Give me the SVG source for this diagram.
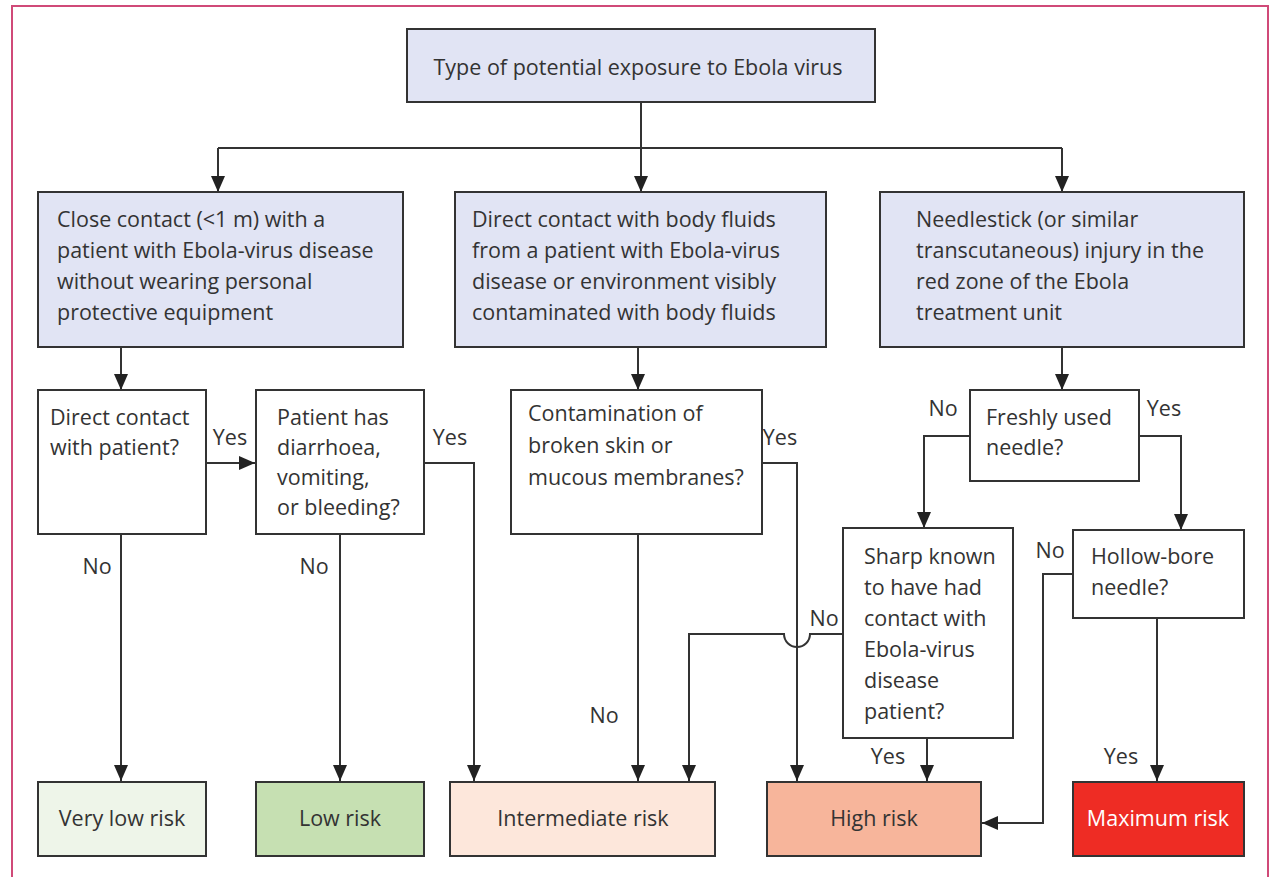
<svg xmlns="http://www.w3.org/2000/svg" width="1274" height="877" viewBox="0 0 1274 877">
<defs>
<style>
text{font-family:"Open Sans","Liberation Sans",sans-serif;font-size:21.5px;fill:#333;}
.box{stroke:#333;stroke-width:2;fill:#fff;}
.blue{fill:#e1e4f4;}
.line{fill:none;stroke:#333;stroke-width:2;}
.mid{text-anchor:middle;}
</style>
<marker id="arr" viewBox="0 0 16 14" refX="16" refY="7" markerWidth="16" markerHeight="14" markerUnits="userSpaceOnUse" orient="auto">
<path d="M0,0 L16,7 L0,14 z" fill="#222"/>
</marker>
</defs>
<rect x="12" y="6" width="1256" height="880" fill="#fff" stroke="#d04a78" stroke-width="2"/>

<g id="connectors">
<path class="line" d="M641,102 V148 M218,148 H1062" />
<path class="line" marker-end="url(#arr)" d="M218,148 V192"/>
<path class="line" marker-end="url(#arr)" d="M641,148 V192"/>
<path class="line" marker-end="url(#arr)" d="M1062,148 V192"/>
<path class="line" marker-end="url(#arr)" d="M121,347 V390"/>
<path class="line" marker-end="url(#arr)" d="M638,347 V390"/>
<path class="line" marker-end="url(#arr)" d="M1062,347 V390"/>
<path class="line" marker-end="url(#arr)" d="M206,463 H255"/>
<path class="line" marker-end="url(#arr)" d="M424,463 H474 V781"/>
<path class="line" marker-end="url(#arr)" d="M762,463 H797 V781"/>
<path class="line" marker-end="url(#arr)" d="M121,534 V781"/>
<path class="line" marker-end="url(#arr)" d="M340,534 V781"/>
<path class="line" marker-end="url(#arr)" d="M638,534 V781"/>
<path class="line" marker-end="url(#arr)" d="M970,436 H924 V528"/>
<path class="line" marker-end="url(#arr)" d="M1139,436 H1181 V530"/>
<path class="line" marker-end="url(#arr)" d="M843,634 H810 A13,13 0 0 1 784,634 H689 V781"/>
<path class="line" marker-end="url(#arr)" d="M927,738 V781"/>
<path class="line" marker-end="url(#arr)" d="M1157,618 V781"/>
<path class="line" marker-end="url(#arr)" d="M1073,574 H1043 V823 H982"/>
<text x="230" y="445" class="mid">Yes</text>
<text x="450" y="445" class="mid">Yes</text>
<text x="780" y="445" class="mid">Yes</text>
<text x="97" y="574" class="mid">No</text>
<text x="314" y="574" class="mid">No</text>
<text x="604" y="723" class="mid">No</text>
<text x="943" y="416" class="mid">No</text>
<text x="1164" y="416" class="mid">Yes</text>
<text x="824" y="626" class="mid">No</text>
<text x="1050" y="558" class="mid">No</text>
<text x="888" y="764" class="mid">Yes</text>
<text x="1121" y="764" class="mid">Yes</text>
</g>

<g id="top">
<rect class="box blue" x="407" y="29" width="468" height="73"/>
<text x="638" y="75" class="mid">Type of potential exposure to Ebola virus</text>
</g>
<g id="close">
<rect class="box blue" x="38" y="192" width="365" height="155"/>
<text x="57" y="227">Close contact (&lt;1 m) with a</text>
<text x="57" y="258">patient with Ebola-virus disease</text>
<text x="57" y="289">without wearing personal</text>
<text x="57" y="320">protective equipment</text>
</g>
<g id="fluids">
<rect class="box blue" x="455" y="192" width="371" height="155"/>
<text x="472" y="227">Direct contact with body fluids</text>
<text x="472" y="258">from a patient with Ebola-virus</text>
<text x="472" y="289">disease or environment visibly</text>
<text x="472" y="320">contaminated with body fluids</text>
</g>
<g id="needlestick">
<rect class="box blue" x="880" y="192" width="364" height="155"/>
<text x="916" y="227">Needlestick (or similar</text>
<text x="916" y="258">transcutaneous) injury in the</text>
<text x="916" y="289">red zone of the Ebola</text>
<text x="916" y="320">treatment unit</text>
</g>
<g id="direct">
<rect class="box" x="38" y="390" width="168" height="144"/>
<text x="50" y="425">Direct contact</text>
<text x="50" y="455">with patient?</text>
</g>
<g id="symptoms">
<rect class="box" x="256" y="390" width="168" height="144"/>
<text x="277" y="425">Patient has</text>
<text x="277" y="455">diarrhoea,</text>
<text x="277" y="485">vomiting,</text>
<text x="277" y="515">or bleeding?</text>
</g>
<g id="contamination">
<rect class="box" x="511" y="390" width="251" height="144"/>
<text x="528" y="421">Contamination of</text>
<text x="528" y="453">broken skin or</text>
<text x="528" y="485">mucous membranes?</text>
</g>
<g id="fresh">
<rect class="box" x="970" y="390" width="169" height="91"/>
<text x="986" y="425">Freshly used</text>
<text x="986" y="455">needle?</text>
</g>
<g id="sharp">
<rect class="box" x="843" y="528" width="170" height="210"/>
<text x="864" y="564">Sharp known</text>
<text x="864" y="595">to have had</text>
<text x="864" y="626">contact with</text>
<text x="864" y="657">Ebola-virus</text>
<text x="864" y="688">disease</text>
<text x="864" y="719">patient?</text>
</g>
<g id="hollow">
<rect class="box" x="1073" y="530" width="171" height="88"/>
<text x="1091" y="564">Hollow-bore</text>
<text x="1091" y="595">needle?</text>
</g>
<g id="verylow">
<rect class="box" style="fill:#eef5e9" x="38" y="782" width="168" height="74"/>
<text x="122" y="826" class="mid">Very low risk</text>
</g>
<g id="low">
<rect class="box" style="fill:#c6e0b2" x="256" y="782" width="168" height="74"/>
<text x="340" y="826" class="mid">Low risk</text>
</g>
<g id="intermediate">
<rect class="box" style="fill:#fde7db" x="450" y="782" width="265" height="74"/>
<text x="583" y="826" class="mid">Intermediate risk</text>
</g>
<g id="high">
<rect class="box" style="fill:#f7b59b" x="767" y="782" width="214" height="74"/>
<text x="874" y="826" class="mid">High risk</text>
</g>
<g id="maximum">
<rect class="box" style="fill:#ee2c24" x="1073" y="782" width="171" height="74"/>
<text x="1158" y="826" class="mid" style="fill:#fff">Maximum risk</text>
</g>
</svg>
